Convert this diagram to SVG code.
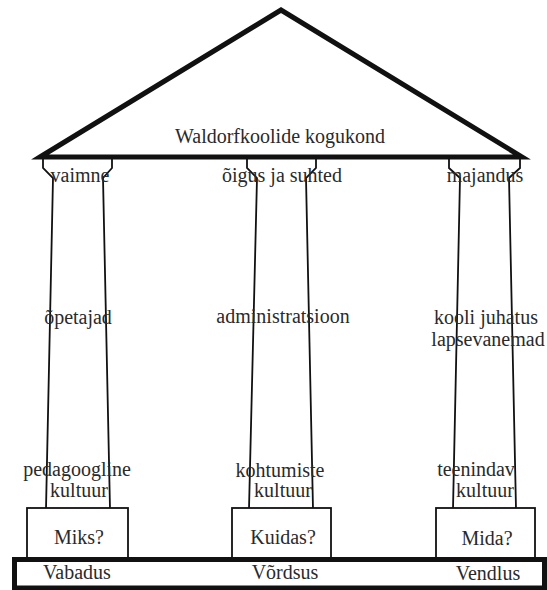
<svg xmlns="http://www.w3.org/2000/svg" width="547" height="590" viewBox="0 0 547 590">
<style>
.t{font-family:"Liberation Serif","Times New Roman",serif;font-size:20px;fill:#2a2a2a;text-anchor:middle}
.col{fill:none;stroke:#111;stroke-width:1.8;stroke-linejoin:miter}
.box{fill:#fff;stroke:#111;stroke-width:1.8}
</style>
<rect width="547" height="590" fill="#fff"/>
<g id="roof">
<polygon points="40,157 281,10 522,157" fill="#fff" stroke="#111" stroke-width="5" stroke-linejoin="miter"/>
<text class="t" x="280" y="143">Waldorfkoolide kogukond</text>
</g>
<g id="pillar-left">
<polyline class="col" points="43,159 43,168 53,178 46,509"/>
<polyline class="col" points="112,159 112,168 103,178 110,509"/>
<text class="t" x="80" y="182">vaimne</text>
<text class="t" x="78" y="324">õpetajad</text>
<text class="t" x="77" y="476">pedagoogline</text>
<text class="t" x="79" y="497">kultuur</text>
</g>
<g id="pillar-middle">
<polyline class="col" points="247,159 247,168 257,178 249,509"/>
<polyline class="col" points="316,159 316,168 306,178 313,509"/>
<text class="t" x="282" y="182">õigus ja suhted</text>
<text class="t" x="283" y="323">administratsioon</text>
<text class="t" x="280" y="477">kohtumiste</text>
<text class="t" x="283" y="497">kultuur</text>
</g>
<g id="pillar-right">
<polyline class="col" points="449,159 449,168 460,178 453,509"/>
<polyline class="col" points="520,159 520,168 509,178 516,509"/>
<text class="t" x="485" y="182">majandus</text>
<text class="t" x="486" y="324">kooli juhatus</text>
<text class="t" x="488" y="346">lapsevanemad</text>
<text class="t" x="476" y="476">teenindav</text>
<text class="t" x="485" y="497">kultuur</text>
</g>
<g id="box-miks">
<rect class="box" x="27" y="508" width="101" height="50"/>
<text class="t" x="79" y="544">Miks?</text>
</g>
<g id="box-kuidas">
<rect class="box" x="232" y="508" width="99" height="50"/>
<text class="t" x="283" y="544">Kuidas?</text>
</g>
<g id="box-mida">
<rect class="box" x="436" y="508" width="99" height="50"/>
<text class="t" x="487" y="545">Mida?</text>
</g>
<g id="base">
<rect x="14.5" y="559.5" width="530" height="28.5" fill="#fff" stroke="#111" stroke-width="5"/>
<text class="t" x="77" y="579">Vabadus</text>
<text class="t" x="285" y="579">Võrdsus</text>
<text class="t" x="488" y="580">Vendlus</text>
</g>
<g id="connectors"></g>
</svg>
